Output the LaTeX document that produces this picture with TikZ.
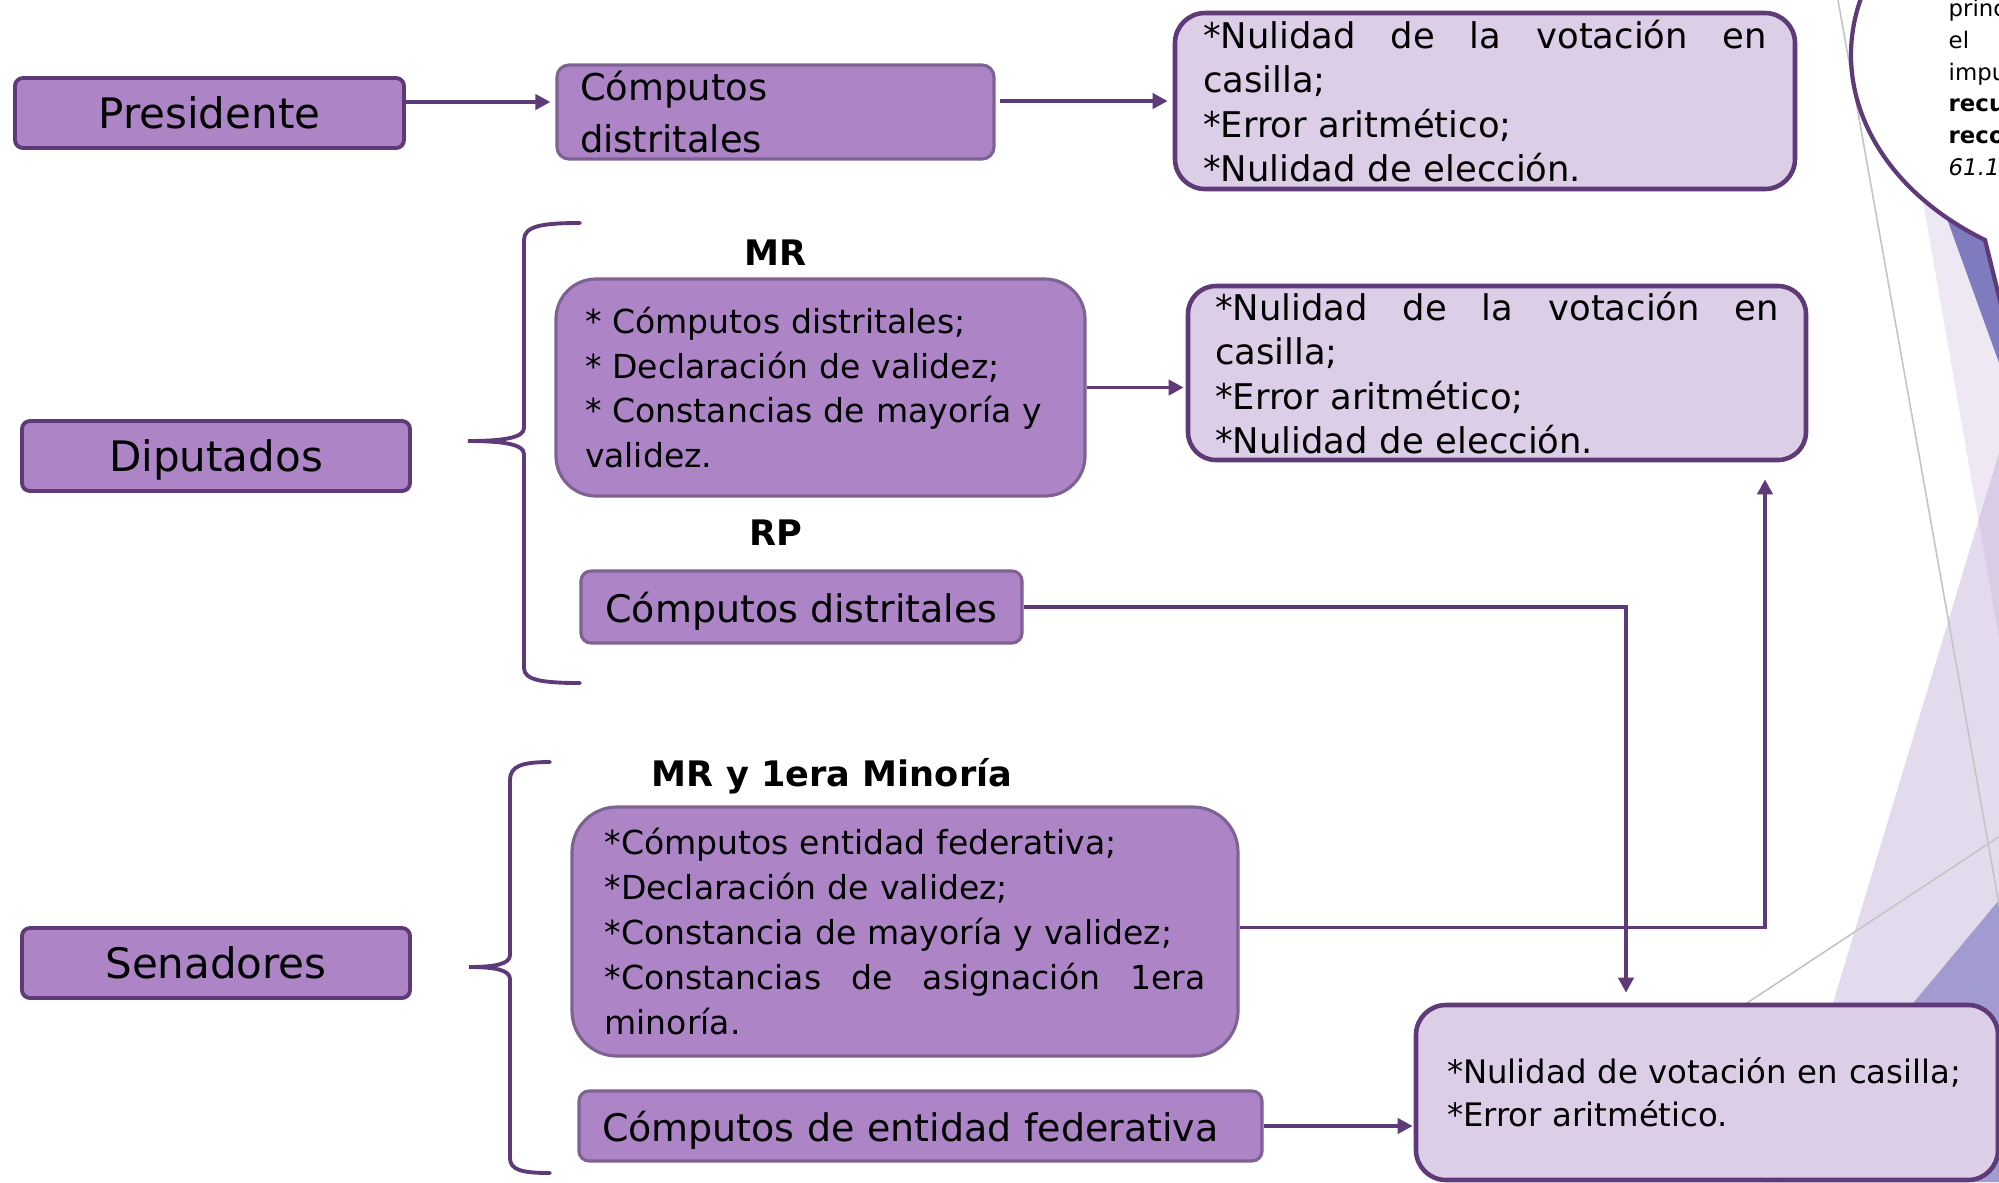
\documentclass[tikz,border=0pt]{standalone}
\usepackage{fontspec}
\setmainfont{DejaVu Sans}
\usetikzlibrary{arrows.meta, positioning, calc}
\definecolor{votodark}{HTML}{5E3A78}
\definecolor{votomid}{HTML}{AD84C6}
\definecolor{votoedge}{HTML}{7D6293}
\definecolor{votolight}{HTML}{DDCEE8}
\definecolor{facetpale}{HTML}{EEE7F4}
\definecolor{facetlight}{HTML}{E4DAEE}
\definecolor{facetmix}{HTML}{DACBE6}
\definecolor{facetdeep}{HTML}{7F7BBF}
\definecolor{facetblue}{HTML}{A29BD0}
\definecolor{facetline}{HTML}{C4C4C4}

% one justified line, stretched to the given width
\newcommand{\fitline}[2]{\leavevmode\hbox to #1{\spaceskip=0.32em plus 1fil\relax #2}}

\begin{document}
\begin{tikzpicture}[
  cargo/.style={
    draw=votodark, fill=votomid, line width=1.1pt,
    minimum width=3.88cm, minimum height=0.70cm, text depth=0pt,
    rounded corners=0.08cm, inner sep=0pt, font=\fontsize{11.95}{14}\selectfont
  },
  acto/.style={
    draw=votoedge, fill=votomid, line width=0.9pt, inner sep=0pt
  },
  medio/.style={
    draw=votodark, fill=votolight, line width=1.3pt, inner sep=0pt, align=left
  },
  connector/.style={
    -{Triangle[length=4.3pt, width=4.3pt]}, line width=1.1pt, color=votodark
  },
  grupo/.style={
    font=\fontsize{10}{12}\selectfont\bfseries, anchor=base, inner sep=0pt
  },
  llave/.style={
    draw=votodark, line width=1.1pt, line cap=round
  }
]
\useasboundingbox (0,0) rectangle (19.99,-11.82);
\clip (0,0) rectangle (19.99,-11.82);
\fill[white] (0,0) rectangle (19.99,-11.82);

% Slide decoration on the right
\fill[facetpale] (18.88,0) -- (20.5,0) -- (20.5,-9.31) -- cycle;
\fill[facetlight] (20.5,-2.84) -- (17.79,-11.82) -- (20.5,-11.82) -- cycle;
\begin{scope}
  \clip (18.88,0) -- (20.5,0) -- (20.5,-9.31) -- cycle;
  \fill[facetmix] (20.5,-2.84) -- (17.79,-11.82) -- (20.5,-11.82) -- cycle;
\end{scope}
\fill[facetdeep] (18.68,0) -- (20.5,0) -- (20.5,-5.04) -- cycle;
\fill[facetblue] (20.5,-8.39) -- (17.64,-11.82) -- (20.5,-11.82) -- cycle;
\draw[facetline, line width=0.45pt] (18.38,0) -- (20.0,-9.10);
\draw[facetline, line width=0.45pt] (17.00,-10.34) -- (20.5,-8.03);

% Callout cut by the slide edge
\filldraw[fill=white, draw=votodark, line width=1.2pt]
  (20.12,-3.49) -- (19.85,-2.40)
  arc[start angle=236.4, end angle=100, x radius=3.0cm, y radius=2.22cm]
  -- (24,2) -- (24,-3.49) -- cycle;
\node[anchor=north west, inner sep=0pt, align=left, font=\fontsize{6.5}{9}\selectfont]
  (nota) at (19.48,0.06) {\strut princ\\el\\impu\\\textbf{recu}\\\textbf{reco}\\\textit{61.1}};

% Braces
\draw[llave] (5.80,-2.23) .. controls (5.42,-2.23) and (5.24,-2.26) .. (5.24,-2.40)
  -- (5.24,-4.28) .. controls (5.24,-4.38) and (5.02,-4.41) .. (4.68,-4.41)
  .. controls (5.02,-4.41) and (5.24,-4.44) .. (5.24,-4.54)
  -- (5.24,-6.68) .. controls (5.24,-6.80) and (5.42,-6.83) .. (5.80,-6.83);
\draw[llave] (5.50,-7.62) .. controls (5.22,-7.62) and (5.10,-7.66) .. (5.10,-7.80)
  -- (5.10,-9.55) .. controls (5.10,-9.64) and (4.95,-9.67) .. (4.69,-9.67)
  .. controls (4.95,-9.67) and (5.10,-9.70) .. (5.10,-9.79)
  -- (5.10,-11.58) .. controls (5.10,-11.70) and (5.22,-11.73) .. (5.50,-11.73);

% Presidente
\node[cargo, minimum width=3.89cm] (pres) at (2.095,-1.13) {Presidente};
\node[acto, rounded corners=0.12cm, minimum height=0.94cm,
  text width=3.91cm, inner xsep=0.23cm, align=left,
  font=\fontsize{10.5}{14.8}\selectfont] (comp1) at (7.755,-1.12) {Cómputos\\distritales};
\node[medio, rounded corners=0.3cm, minimum height=1.76cm,
  text width=5.64cm, inner xsep=0.28cm, font=\fontsize{10.07}{12.66}\selectfont]
  (res1) at (14.85,-1.01)
  {\fitline{5.64cm}{*Nulidad de la votación en}\\{}casilla;\\{}*Error aritmético;\\{}*Nulidad de elección.};

% Diputados
\node[cargo] (dip) at (2.16,-4.56) {Diputados};
\node[grupo] (mrlbl) at (7.76,-2.65) {MR};
\node[acto, rounded corners=0.4cm, minimum height=2.17cm,
  text width=4.71cm, inner xsep=0.29cm, align=left,
  font=\fontsize{9.4}{12.7}\selectfont] (mr) at (8.205,-3.875)
  {* Cómputos distritales;\\{}* Declaración de validez;\\{}* Constancias de mayoría y\\{}validez.};
\node[medio, rounded corners=0.28cm, minimum height=1.74cm,
  text width=5.64cm, inner xsep=0.27cm, font=\fontsize{10.07}{12.66}\selectfont]
  (res2) at (14.97,-3.73)
  {\fitline{5.64cm}{*Nulidad de la votación en}\\{}casilla;\\{}*Error aritmético;\\{}*Nulidad de elección.};
\node[grupo] (rplbl) at (7.76,-5.45) {RP};
\node[acto, rounded corners=0.1cm, minimum width=4.41cm, minimum height=0.72cm,
  text depth=0pt, font=\fontsize{10.8}{13}\selectfont] (rp) at (8.015,-6.07) {Cómputos distritales};

% Senadores
\node[cargo] (sen) at (2.16,-9.63) {Senadores};
\node[grupo] (senlbl) at (8.32,-7.86) {MR y 1era Minoría};
\node[acto, rounded corners=0.45cm, minimum height=2.49cm,
  text width=6.01cm, inner xsep=0.325cm, align=left,
  font=\fontsize{9.4}{12.8}\selectfont] (mr1) at (9.05,-9.315)
  {*Cómputos entidad federativa;\\{}*Declaración de validez;\\{}*Constancia de mayoría y validez;\\{}\fitline{6.01cm}{*Constancias de asignación 1era}\\{}minoría.};
\node[acto, rounded corners=0.1cm, minimum height=0.70cm,
  text width=6.37cm, inner xsep=0.23cm, align=left, text depth=0pt,
  font=\fontsize{10.8}{13}\selectfont] (ent) at (9.205,-11.26) {Cómputos de entidad federativa};
\node[medio, rounded corners=0.3cm, minimum height=1.75cm,
  text width=5.2cm, inner xsep=0.31cm, font=\fontsize{9.2}{12.2}\selectfont]
  (resb) at (17.07,-10.925) {*Nulidad de votación en casilla;\\{}*Error aritmético.};

% Connections
\draw[connector, shorten >=0.05cm] ([yshift=0.11cm]pres.east) -- ([yshift=0.11cm]pres.east -| comp1.west);
\draw[connector, shorten <=0.04cm, shorten >=0.05cm] (comp1.east |- res1.west) -- (res1.west);
\draw[connector, shorten >=0.02cm] (mr.east) -- (mr.east -| res2.west);
\draw[connector, shorten >=0.10cm] (rp.east) -| ([xshift=-0.81cm]resb.north);
\draw[connector, shorten >=0.17cm] ([yshift=0.04cm]mr1.east) -| ([xshift=2.68cm]res2.south);
\draw[connector, shorten >=0.01cm] (ent.east) -- (ent.east -| resb.west);

\end{tikzpicture}
\end{document}
